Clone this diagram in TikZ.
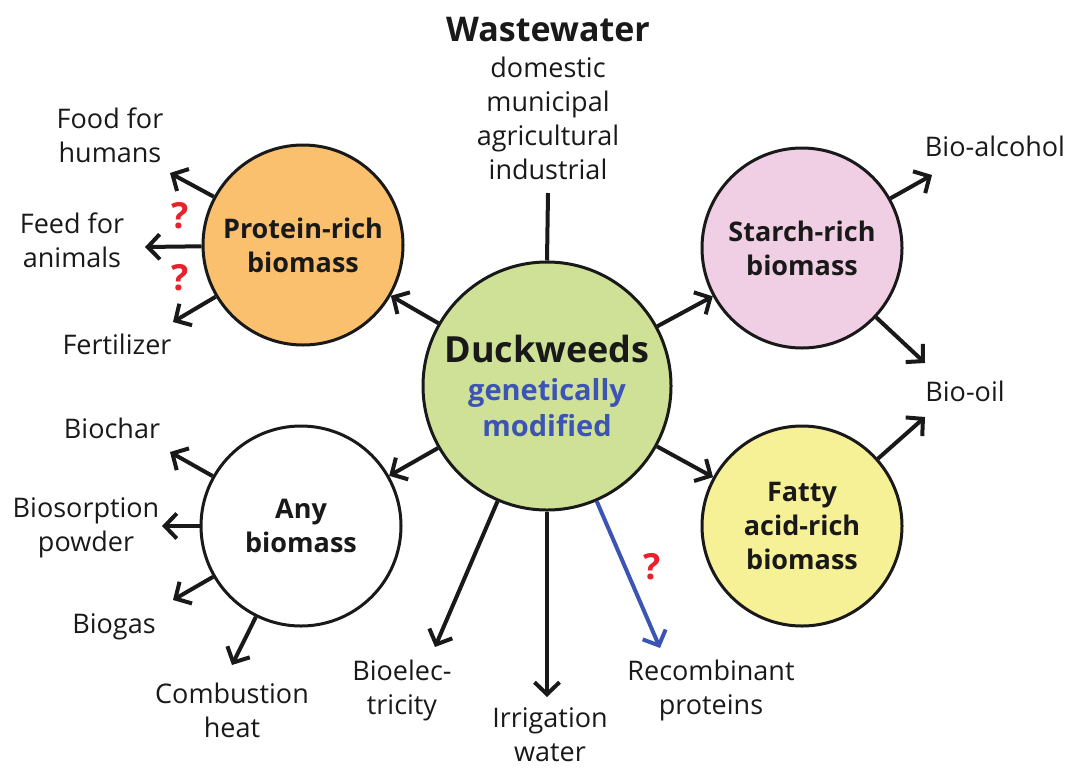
\documentclass[tikz,border=0pt]{standalone}
\usepackage{fontspec}
\setmainfont{Open Sans}
\usetikzlibrary{arrows.meta}
\definecolor{dwgreen}{RGB}{206,225,150}
\definecolor{prorange}{RGB}{250,192,110}
\definecolor{stpink}{RGB}{240,206,228}
\definecolor{fayellow}{RGB}{246,240,150}
\definecolor{gmblue}{RGB}{60,85,180}
\definecolor{qred}{RGB}{230,35,45}
\begin{document}
\begin{tikzpicture}[x=1pt,y=-1pt,
  lbl/.style={font=\fontsize{27}{34}\selectfont, align=center, inner sep=0pt, text=black!90},
  circ/.style={circle, draw=black!90, line width=3pt, minimum size=200pt, inner sep=0pt, align=center,
    font=\fontsize{27}{34}\selectfont\bfseries, text=black!90},
  arr/.style={draw=black!90, line width=4pt, -{Straight Barb[length=12pt,width=25pt]}},
  barr/.style={draw=gmblue, line width=4pt, -{Straight Barb[length=12pt,width=25pt]}},
  qm/.style={font=\fontsize{36}{38}\selectfont\bfseries, text=qred, inner sep=0pt}
]
\useasboundingbox (0,0) rectangle (1067,769);

% circles
\node[circ, fill=dwgreen, minimum size=248pt, font=\fontsize{29}{36}\selectfont\bfseries] (dw) at (547,386)
  {{\fontsize{36}{40}\selectfont Duckweeds}\\[2pt]\textcolor{gmblue}{genetically}\\\textcolor{gmblue}{modified}};
\node[circ, fill=prorange] (pr) at (303,245) {Protein-rich\\biomass};
\node[circ, fill=stpink] (st) at (802,248) {Starch-rich\\biomass};
\node[circ, fill=fayellow] (fa) at (802,526) {Fatty\\acid-rich\\biomass};
\node[circ, fill=white] (an) at (301,526) {Any\\biomass};

% wastewater
\node[font=\fontsize{34}{40}\selectfont\bfseries, inner sep=0pt, text=black!90] (ww) at (548,30) {Wastewater};
\node[lbl] (wwl) at (548,118) {domestic\\municipal\\agricultural\\industrial};
\coordinate (wwtop) at (548,193);
\draw[line width=4pt, draw=black!90] (wwtop) -- (dw.north);

% labels
\node[lbl] (food) at (110,135) {Food for\\humans};
\node[lbl] (feed) at (72,240) {Feed for\\animals};
\node[lbl] (fert) at (117,344) {Fertilizer};
\node[lbl] (bchar) at (112,428) {Biochar};
\node[lbl] (bsorp) at (86,528) {Biosorption\\powder};
\node[lbl] (bgas) at (114,627) {Biogas};
\node[lbl] (comb) at (232,710) {Combustion\\heat};
\node[lbl] (belec) at (402,690) {Bioelec-\\tricity};
\node[lbl] (irr) at (550,735) {Irrigation\\water};
\node[lbl] (recp) at (711,690) {Recombinant\\proteins};
\node[lbl] (balc) at (995,146) {Bio-alcohol};
\node[lbl] (boil) at (965,391) {Bio-oil};

% arrow tips
\coordinate (tfood) at (170,173);
\coordinate (tfeed) at (145,247);
\coordinate (tfert) at (173,322);
\coordinate (tbchar) at (170,452);
\coordinate (tbsorp) at (162,526);
\coordinate (tbgas) at (173,600);
\coordinate (tcomb) at (232,665);
\coordinate (tbelec) at (435,647);
\coordinate (tirr) at (547,697);
\coordinate (trecp) at (660,648);
\coordinate (tbalc) at (932,175);
\coordinate (tboil1) at (925,363);
\coordinate (tboil2) at (925,417);

% connectors
\draw[arr] (dw) -- (pr);
\draw[arr] (dw) -- (st);
\draw[arr] (dw) -- (fa);
\draw[arr] (dw) -- (an);
\draw[arr] (pr) -- (tfood);
\draw[arr] (pr) -- (tfeed);
\draw[arr] (pr) -- (tfert);
\draw[arr] (an) -- (tbchar);
\draw[arr] (an) -- (tbsorp);
\draw[arr] (an) -- (tbgas);
\draw[arr] (an) -- (tcomb);
\draw[arr] (dw) -- (tbelec);
\draw[arr] (dw) -- (tirr);
\draw[barr] (dw) -- (trecp);
\draw[arr] (st) -- (tbalc);
\draw[arr] (st) -- (tboil1);
\draw[arr] (fa) -- (tboil2);

% question marks
\node[qm] (q1) at (180,216) {?};
\node[qm] (q2) at (180,278) {?};
\node[qm] (q3) at (652,567) {?};
\end{tikzpicture}
\end{document}
